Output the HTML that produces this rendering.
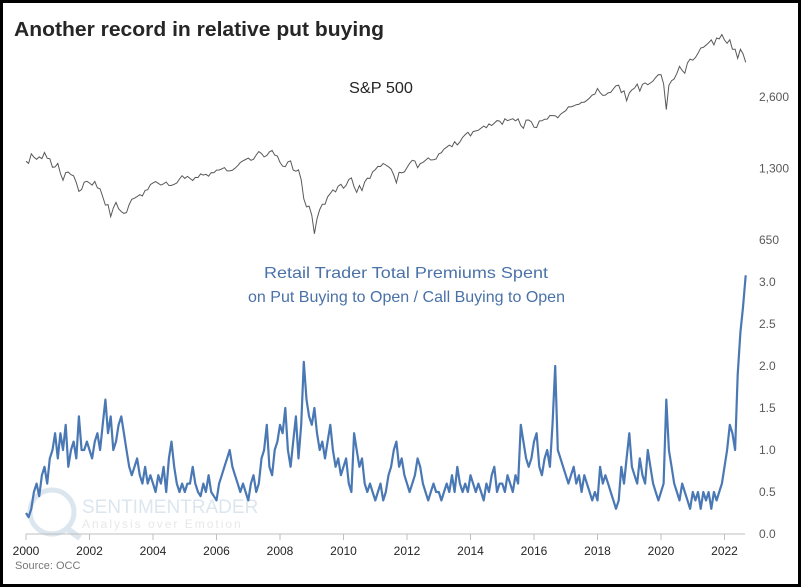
<!DOCTYPE html>
<html><head><meta charset="utf-8"><style>
body{margin:0;background:#fff;}
#wrap{position:relative;width:801px;height:587px;box-sizing:border-box;border:3px solid #000;background:#fff;font-family:"Liberation Sans",sans-serif;overflow:hidden}
</style></head><body>
<div id="wrap">
<svg id="svg" width="801" height="587" style="position:absolute;left:-3px;top:-3px">
<text x="14" y="36" font-size="20" font-weight="bold" fill="#262626" textLength="370" lengthAdjust="spacingAndGlyphs">Another record in relative put buying</text>
<text x="349" y="93" font-size="16" fill="#262626" textLength="64" lengthAdjust="spacingAndGlyphs">S&amp;P 500</text>
<text x="264" y="278" font-size="16" fill="#4a72a8" textLength="284" lengthAdjust="spacingAndGlyphs">Retail Trader Total Premiums Spent</text>
<text x="248" y="302" font-size="16" fill="#4a72a8" textLength="317" lengthAdjust="spacingAndGlyphs">on Put Buying to Open / Call Buying to Open</text>
<g opacity="0.35">
<circle cx="52" cy="512" r="22" fill="none" stroke="#9cb8d4" stroke-width="5"/>
<line x1="66" y1="528" x2="80" y2="538" stroke="#9cb8d4" stroke-width="6"/>
<text x="82" y="513" font-size="19" fill="#9cb8d4">SENTIMENTRADER</text>
<text x="82" y="528" font-size="12" fill="#bbb" letter-spacing="2">Analysis over Emotion</text>
</g>
<g id="axes"></g>
<g id="marks"></g>
<text x="15" y="569" font-size="11" fill="#777">Source: OCC</text>
</svg>
</div>
<script>
const years=['2000','2002','2004','2006','2008','2010','2012','2014','2016','2018','2020','2022'];
const spTicks=[2600,1300,650];
const spTickLabels=['2,600','1,300','650'];
const ratioTicks=[0,0.5,1,1.5,2,2.5,3];
const ratioTickLabels=['0.0','0.5','1.0','1.5','2.0','2.5','3.0'];
const sp500=[1394,1366,1499,1452,1421,1455,1431,1518,1437,1429,1315,1320,
1366,1240,1160,1249,1256,1224,1211,1134,1041,1060,1139,1148,
1130,1107,1147,1077,1067,990,912,916,815,886,936,880,
856,841,848,917,964,975,990,1008,996,1051,1058,1112,
1131,1145,1126,1107,1121,1141,1102,1104,1115,1130,1174,1212,
1181,1204,1181,1157,1192,1191,1234,1220,1229,1207,1249,1248,
1280,1281,1295,1311,1270,1270,1277,1304,1336,1378,1401,1418,
1438,1407,1421,1482,1531,1503,1455,1474,1527,1549,1481,1468,
1379,1331,1323,1386,1400,1280,1267,1283,1166,969,896,903,
826,690,798,873,919,919,987,1021,1057,1036,1096,1115,
1074,1104,1169,1187,1089,1031,1102,1049,1141,1183,1181,1258,
1286,1327,1326,1364,1345,1321,1292,1219,1131,1253,1247,1258,
1312,1366,1408,1398,1310,1362,1379,1407,1441,1412,1416,1426,
1498,1515,1569,1598,1631,1606,1686,1633,1682,1757,1806,1848,
1783,1859,1872,1884,1924,1960,1931,2003,1972,2018,2068,2059,
1995,2105,2068,2086,2107,2063,2104,1972,1920,2079,2080,2044,
1940,1932,2060,2065,2097,2099,2174,2171,2168,2126,2199,2239,
2279,2364,2363,2384,2412,2423,2470,2472,2519,2575,2648,2674,
2824,2714,2641,2648,2705,2718,2816,2902,2914,2712,2760,2507,
2704,2784,2834,2946,2752,2942,2980,2926,2977,3038,3141,3231,
3226,2954,2300,2912,3044,3100,3271,3500,3363,3270,3622,3756,
3714,3811,3973,4181,4204,4298,4395,4523,4308,4605,4567,4766,
4516,4374,4530,4132,4132,3785,4130,3955,3640];
const ratio=[0.25,0.2,0.3,0.5,0.6,0.45,0.7,0.8,0.6,0.9,1.0,1.2,
0.9,1.2,1.0,1.3,0.8,1.0,1.1,0.9,1.4,1.0,1.0,1.1,
1.0,0.9,1.1,1.2,1.0,1.3,1.6,1.2,1.4,1.0,1.1,1.3,
1.4,1.2,1.0,0.8,0.7,0.8,0.9,0.7,0.6,0.8,0.6,0.7,
0.6,0.5,0.7,0.6,0.8,0.5,0.9,1.1,0.8,0.6,0.5,0.6,
0.5,0.6,0.6,0.8,0.6,0.5,0.45,0.6,0.5,0.7,0.5,0.45,
0.4,0.6,0.7,0.8,0.9,1.0,0.8,0.7,0.6,0.5,0.6,0.5,
0.4,0.6,0.7,0.5,0.6,0.9,1.0,1.3,0.8,0.7,1.0,1.1,
1.3,1.2,1.5,1.0,0.8,1.1,1.4,0.9,1.3,2.05,1.6,1.4,
1.3,1.5,1.2,1.0,1.1,0.9,1.1,1.3,1.0,0.8,0.9,0.7,
0.8,0.9,0.6,0.5,1.2,1.0,0.8,0.9,0.6,0.5,0.6,0.5,
0.4,0.5,0.6,0.4,0.5,0.7,0.8,1.0,1.1,0.8,0.9,0.7,
0.6,0.5,0.6,0.7,0.9,0.8,0.6,0.5,0.4,0.5,0.6,0.5,
0.5,0.4,0.5,0.6,0.5,0.7,0.5,0.8,0.6,0.5,0.6,0.5,
0.7,0.6,0.5,0.6,0.5,0.4,0.6,0.5,0.7,0.8,0.5,0.6,
0.6,0.5,0.7,0.6,0.5,0.7,0.6,1.3,1.1,0.9,0.8,0.9,
1.1,1.2,0.8,0.7,0.9,1.0,0.8,1.3,2.0,1.0,0.9,0.8,
0.7,0.6,0.7,0.8,0.6,0.7,0.5,0.7,0.6,0.5,0.4,0.5,
0.4,0.8,0.6,0.7,0.6,0.5,0.4,0.3,0.4,0.8,0.6,0.9,
1.2,0.8,0.7,0.6,0.9,0.7,0.6,1.0,0.8,0.6,0.5,0.4,
0.5,0.6,1.6,1.0,0.8,0.6,0.5,0.4,0.6,0.5,0.4,0.3,
0.5,0.4,0.5,0.3,0.5,0.4,0.5,0.3,0.5,0.4,0.5,0.6,
0.8,1.0,1.3,1.2,1.0,1.9,2.4,2.7,3.08];
const NS='http://www.w3.org/2000/svg';
function xOf(i){return 26+(i/12)*31.75;}
function xYear(y){return 26+(y-2000)*31.75;}
function ySp(v){return 97-Math.log2(v/2600)*71.5;}
function yR(v){return 534-v*84;}
function mk(tag,attrs,parent){const e=document.createElementNS(NS,tag);for(const k in attrs)e.setAttribute(k,attrs[k]);parent.appendChild(e);return e;}
const axes=document.getElementById('axes'),marks=document.getElementById('marks');
const ax=mk('line',{x1:26,x2:745,y1:534,y2:534,stroke:'#bfbfbf','stroke-width':1},axes);


years.forEach(y=>{const x=xYear(+y);
const t=mk('line',{x1:x,x2:x,y1:534,y2:540,stroke:'#bfbfbf'},axes);


const l=mk('text',{x:x,y:555,'font-size':12,fill:'#262626','text-anchor':'middle'},axes);l.textContent=y;

});
spTicks.forEach((v,i)=>{const l=mk('text',{x:759,y:ySp(v)+4,'font-size':12,fill:'#595959'},axes);l.textContent=spTickLabels[i];

});
ratioTicks.forEach((v,i)=>{const l=mk('text',{x:759,y:yR(v)+4,'font-size':12,fill:'#595959'},axes);l.textContent=ratioTickLabels[i];

});
const sp=mk('polyline',{points:sp500.map((v,i)=>xOf(i).toFixed(1)+','+ySp(v).toFixed(1)).join(' '),fill:'none',stroke:'#595959','stroke-width':1},marks);


const rl=mk('polyline',{points:ratio.map((v,i)=>xOf(i).toFixed(1)+','+yR(v).toFixed(1)).join(' '),fill:'none',stroke:'#4a78b4','stroke-width':2.2,'stroke-linejoin':'round'},marks);


</script>
</body></html>
